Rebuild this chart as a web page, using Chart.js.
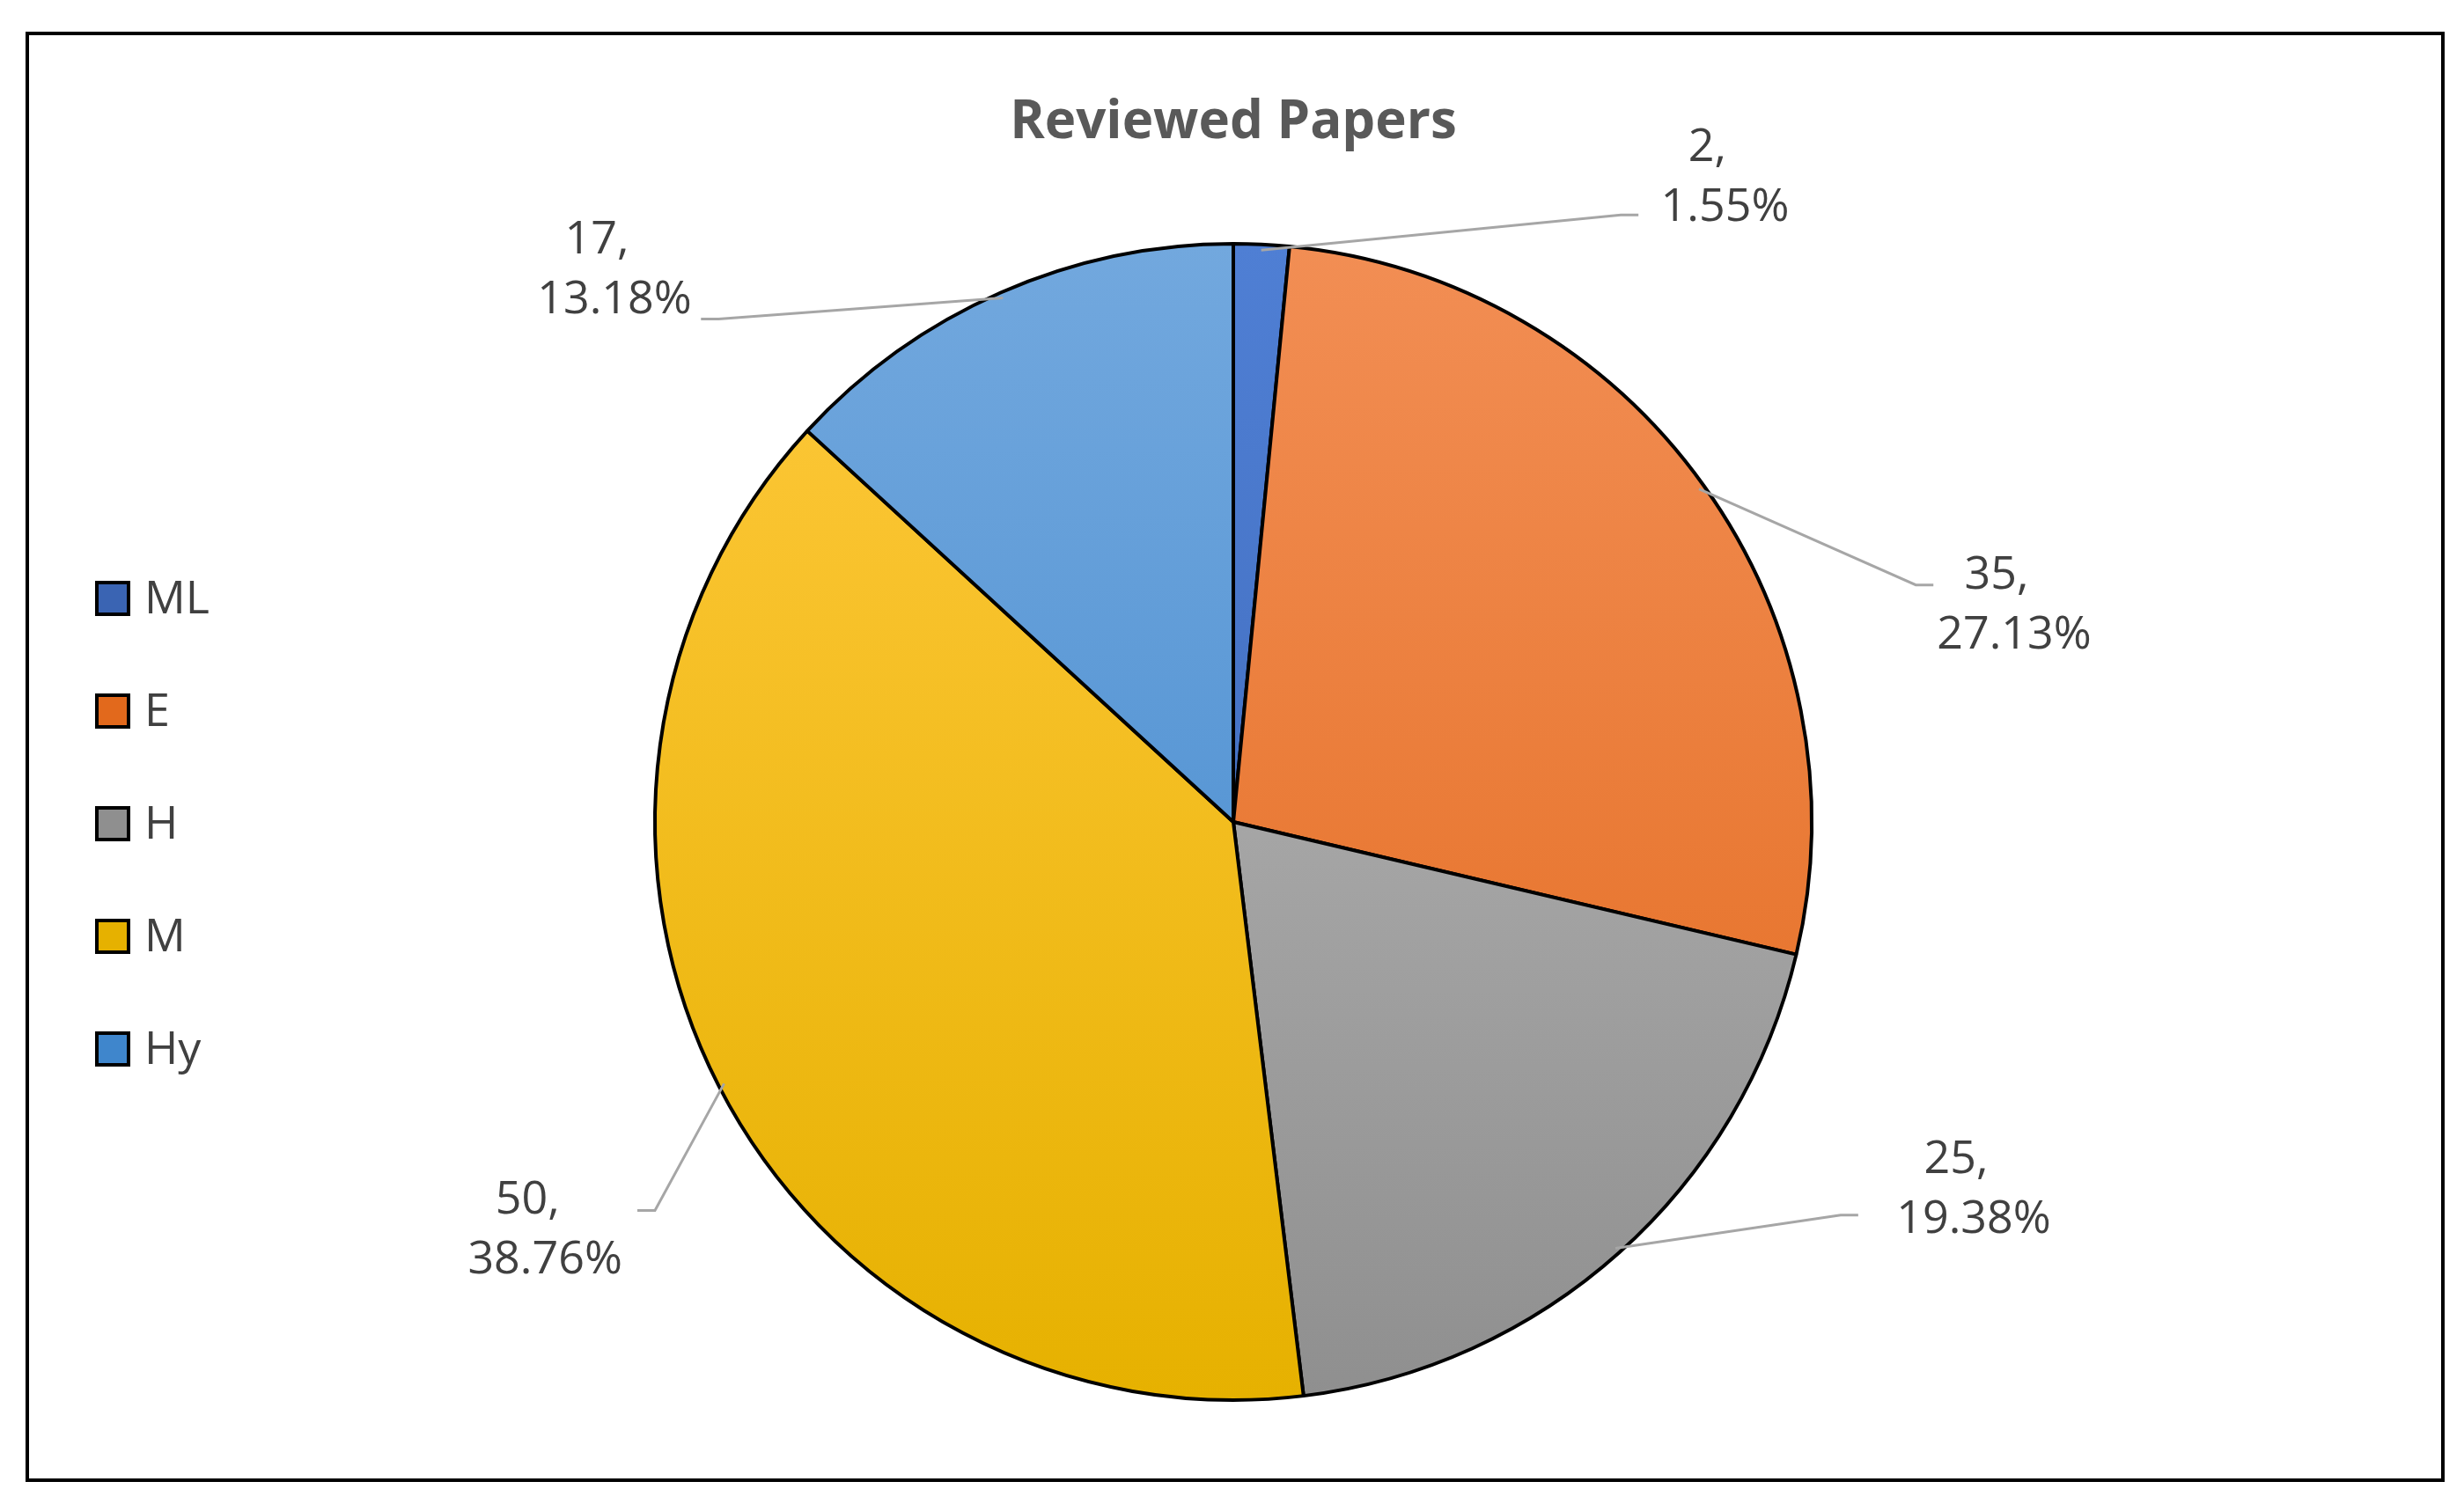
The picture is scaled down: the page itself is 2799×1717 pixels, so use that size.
<!DOCTYPE html>
<html><head><meta charset="utf-8">
<script src="https://cdn.jsdelivr.net/npm/chart.js@4/dist/chart.umd.min.js"></script>
<style>
html,body{margin:0;padding:0;background:#fff;}
#wrap{position:absolute;left:0;top:0;width:2799px;height:1717px;}
#frame{position:absolute;left:29px;top:36px;width:2740px;height:1640px;border:4px solid #000;}
</style></head><body>
<div id="wrap"><div id="frame"></div><canvas id="c" width="2799" height="1717"></canvas></div>
<script>
const categories = ['ML', 'E', 'H', 'M', 'Hy'];
const counts = [2, 35, 25, 50, 17];
const colorsTop = ['#4f7fd4', '#f28e54', '#bcbcbc', '#ffc93d', '#72a8de'];
const colorsBottom = ['#3a64b3', '#e2691c', '#8f8f8f', '#e6b100', '#3f86cc'];
// label layout: text centre and leader end, in units of radius from pie centre
const labelPos = [
  { tx: 0.85, ty: -1.12, lx: 0.67, ly: -1.05, side: 'left' },
  { tx: 1.35, ty: -0.38, lx: 1.18, ly: -0.41, side: 'left' },
  { tx: 1.28, ty: 0.63, lx: 1.05, ly: 0.68, side: 'left' },
  { tx: -1.19, ty: 0.70, lx: -1.0, ly: 0.672, side: 'right' },
  { tx: -1.07, ty: -0.96, lx: -0.89, ly: -0.87, side: 'right' }
];
const total = counts.reduce((a, b) => a + b, 0);
const FONT = '"Segoe UI", "Open Sans", "DejaVu Sans", sans-serif';

const extras = {
  id: 'extras',
  afterDraw(chart) {
    const ctx = chart.ctx;
    const meta = chart.getDatasetMeta(0);
    ctx.save();
    // title
    ctx.fillStyle = '#595959';
    ctx.font = 'bold 60px ' + FONT;
    ctx.textAlign = 'center';
    ctx.textBaseline = 'middle';
    ctx.fillText('Reviewed Papers', 1401, 140);
    // data labels
    meta.data.forEach((arc, i) => {
      const { x, y, outerRadius: r, startAngle, endAngle } = arc.getProps(['x', 'y', 'outerRadius', 'startAngle', 'endAngle'], true);
      const mid = (startAngle + endAngle) / 2;
      const p = labelPos[i];
      const ax = x + Math.cos(mid) * r * 0.99, ay = y + Math.sin(mid) * r * 0.99;
      const ex = x + p.lx * r, ey = y + p.ly * r;
      ctx.strokeStyle = '#a6a6a6';
      ctx.lineWidth = 3;
      ctx.beginPath();
      ctx.moveTo(ax, ay);
      ctx.lineTo(ex, ey);
      ctx.lineTo(ex + (p.side === 'left' ? 20 : -20), ey);
      ctx.stroke();
      const tx = x + p.tx * r, ty = y + p.ty * r;
      ctx.fillStyle = '#404040';
      ctx.font = '52px ' + FONT;
      ctx.textAlign = 'center';
      ctx.fillText(counts[i] + ',', tx - 20, ty - 30);
      ctx.fillText((counts[i] / total * 100).toFixed(2) + '%', tx, ty + 38);
    });
    // legend
    categories.forEach((c, i) => {
      const ly = 680 + i * 128;
      ctx.fillStyle = colorsBottom[i];
      ctx.fillRect(110, ly - 18, 36, 36);
      ctx.strokeStyle = '#000';
      ctx.lineWidth = 4;
      ctx.strokeRect(110, ly - 18, 36, 36);
      ctx.fillStyle = '#404040';
      ctx.font = '52px ' + FONT;
      ctx.textAlign = 'left';
      ctx.fillText(c, 164, ly + 2);
    });
    ctx.restore();
  }
};

function grad(context, i) {
  const area = context.chart.chartArea;
  if (!area) return colorsBottom[i];
  const g = context.chart.ctx.createLinearGradient(0, area.top, 0, area.bottom);
  g.addColorStop(0, colorsTop[i]);
  g.addColorStop(1, colorsBottom[i]);
  return g;
}

new Chart(document.getElementById('c'), {
  type: 'pie',
  data: {
    labels: categories,
    datasets: [{
      data: counts,
      backgroundColor: ctx => grad(ctx, ctx.dataIndex),
      borderColor: '#000',
      borderWidth: 4
    }]
  },
  options: {
    responsive: false,
    animation: false,
    layout: { padding: { left: 742, right: 739, top: 275, bottom: 124 } },
    plugins: { legend: { display: false }, tooltip: { enabled: false } }
  },
  plugins: [extras]
});
</script>
</body></html>
